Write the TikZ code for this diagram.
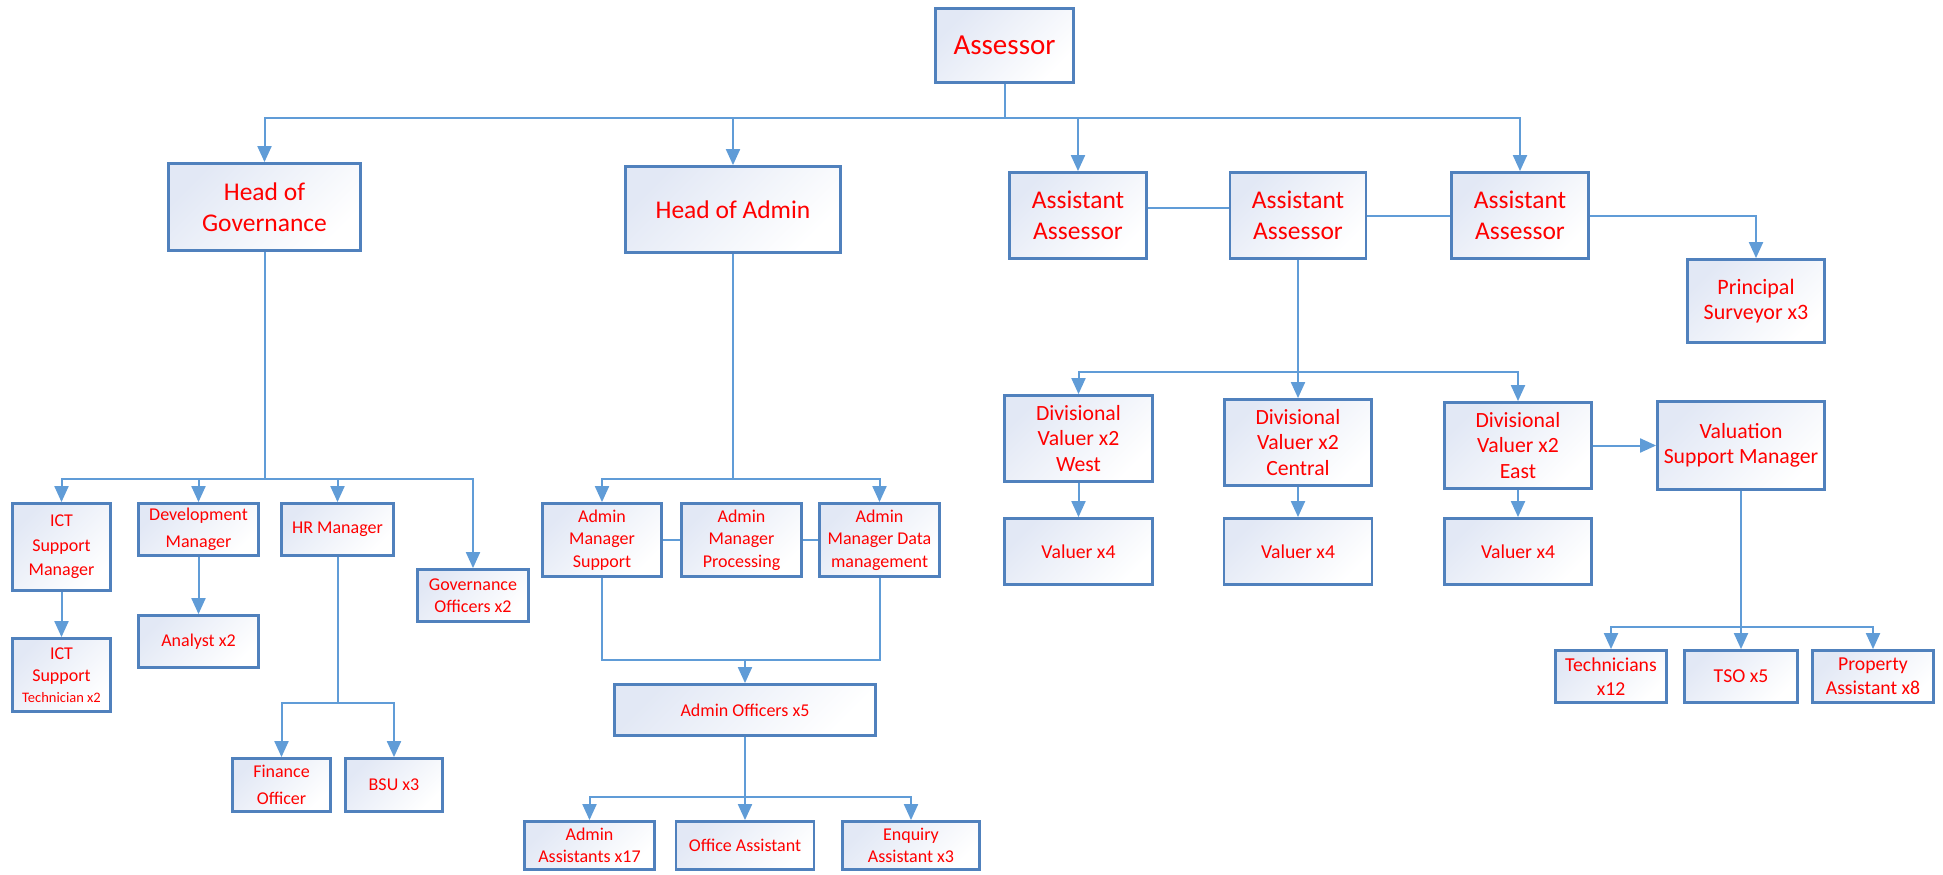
\documentclass[tikz,border=0pt]{standalone}
\usepackage{fontspec}
\setmainfont{Carlito}
\usepackage{tikz}
\usetikzlibrary{arrows.meta}
\usepackage{xcolor}
\definecolor{boxblue}{RGB}{80,129,189}
\definecolor{lineblue}{RGB}{96,156,215}
\definecolor{boxtint}{RGB}{226,232,245}

\begin{document}
\begin{tikzpicture}[x=1pt, y=-1pt,
    box/.style={draw=boxblue, line width=2.8pt, top color=boxtint, bottom color=white, shading angle=45, text=red, align=center, inner sep=2pt},
    link/.style={draw=lineblue, line width=2pt},
    arr/.style={link, -{Triangle[length=16pt,width=14pt]}},
    fbig/.style={font=\fontsize{25.5}{31}\selectfont},
    fmed/.style={font=\fontsize{21.7}{25.5}\selectfont},
    fval/.style={font=\fontsize{19.7}{23.7}\selectfont},
    fsmall/.style={font=\fontsize{18}{22.5}\selectfont}
]
\useasboundingbox (0,0) rectangle (1943,875);

% top levels
\node[box, minimum width=138, minimum height=74, font=\fontsize{29}{35}\selectfont] (assessor) at (1004.5,45.5) {Assessor};
\node[box, fbig, minimum width=192, minimum height=87] (hgov) at (264.5,207) {Head of\\Governance};
\node[box, fbig, minimum width=215, minimum height=86] (hadmin) at (733,209.5) {Head of Admin};
\node[box, fbig, minimum width=137, minimum height=86] (aa1) at (1078,215.5) {Assistant\\Assessor};
\node[box, fbig, minimum width=136, minimum height=86] (aa2) at (1298,215.5) {Assistant\\Assessor};
\node[box, fbig, minimum width=137, minimum height=86] (aa3) at (1520,215.5) {Assistant\\Assessor};
\node[box, font=\fontsize{22}{25}\selectfont, minimum width=137, minimum height=83] (psurv) at (1756,301) {Principal\\Surveyor x3};

% valuation side
\node[box, fmed, minimum width=148, minimum height=86] (divw) at (1078.5,438.5) {Divisional\\Valuer x2\\West};
\node[box, fmed, minimum width=147, minimum height=86] (divc) at (1298,442.5) {Divisional\\Valuer x2\\Central};
\node[box, fmed, minimum width=147, minimum height=86] (dive) at (1518,445.5) {Divisional\\Valuer x2\\East};
\node[box, fmed, minimum width=167, minimum height=88] (vsm) at (1741,445.5) {Valuation\\Support Manager};
\node[box, fval, minimum width=148, minimum height=66] (valw) at (1078.5,551.5) {Valuer x4};
\node[box, fval, minimum width=148, minimum height=66] (valc) at (1298,551.5) {Valuer x4};
\node[box, fval, minimum width=147, minimum height=66] (vale) at (1518,551.5) {Valuer x4};
\node[box, fval, minimum width=111, minimum height=52] (tech) at (1611,676.5) {Technicians\\x12};
\node[box, fval, minimum width=113, minimum height=52] (tso) at (1741,676.5) {TSO x5};
\node[box, fval, minimum width=121, minimum height=52] (prop) at (1873,676.5) {Property\\Assistant x8};

% governance side
\node[box, fsmall, minimum width=98, minimum height=87] (ictm) at (61.5,547) {ICT\\[2pt]Support\\[2pt]Manager};
\node[box, fsmall, minimum width=98, minimum height=73] (ictt) at (61.5,675) {ICT\\Support\\[-2pt]{\fontsize{14.5}{17}\selectfont Technician x2}};
\node[box, fsmall, minimum width=120, minimum height=52] (devm) at (198.5,529.5) {Development\\[5pt]Manager};
\node[box, fsmall, minimum width=120, minimum height=52] (analyst) at (198.5,641.5) {Analyst x2};
\node[box, fsmall, minimum width=112, minimum height=52] (hrm) at (337.5,529.5) {HR Manager};
\node[box, fsmall, minimum width=111, minimum height=52] (govo) at (473,595.5) {Governance\\Officers x2};
\node[box, fsmall, minimum width=98, minimum height=53] (fin) at (281.5,785) {Finance\\[5pt]Officer};
\node[box, fsmall, minimum width=97, minimum height=53] (bsu) at (394,785) {BSU x3};

% admin side
\node[box, fsmall, minimum width=119, minimum height=73] (ams) at (602,540) {Admin\\Manager\\Support};
\node[box, fsmall, minimum width=120, minimum height=73] (amp) at (741.5,540) {Admin\\Manager\\Processing};
\node[box, fsmall, minimum width=120, minimum height=73] (amd) at (879.5,540) {Admin\\Manager Data\\management};
\node[box, fsmall, minimum width=261, minimum height=51] (aoff) at (745,710) {Admin Officers x5};
\node[box, fsmall, minimum width=130, minimum height=48] (aasst) at (589.5,845.5) {Admin\\Assistants x17};
\node[box, fsmall, minimum width=138, minimum height=48] (offa) at (745,845.5) {Office Assistant};
\node[box, fsmall, minimum width=137, minimum height=48] (enq) at (911,845.5) {Enquiry\\Assistant x3};

% connectors
\coordinate (topbus) at (1004.5,118);
\draw[link] (assessor) -- (topbus);
\foreach \n in {hgov,hadmin,aa1,aa3}
    \draw[arr] (topbus) -| (\n);
\draw[link] ([yshift=8pt]aa1.east) -- ([yshift=8pt]aa2.west);
\draw[link] (aa2) -- (aa3);
\draw[arr] (aa3) -| (psurv);

\coordinate (divbus) at (1298,372);
\draw[arr] (aa2) -- (divc);
\draw[arr] (divbus) -| (divw);
\draw[arr] (divbus) -| (dive);
\draw[arr] (divw) -- (valw);
\draw[arr] (divc) -- (valc);
\draw[arr] (dive) -- (vale);
\draw[arr] (dive) -- (vsm);

\coordinate (vsmbus) at (1741,627);
\draw[arr] (vsm) -- (tso);
\draw[arr] (vsmbus) -| (tech);
\draw[arr] (vsmbus) -| (prop);

\coordinate (govbus) at (264.5,479);
\draw[link] (hgov) -- (govbus);
\foreach \n in {ictm,devm,hrm,govo}
    \draw[arr] (govbus) -| (\n);
\draw[arr] (ictm) -- (ictt);
\draw[arr] (devm) -- (analyst);
\coordinate (hrbus) at (337.5,703);
\draw[link] (hrm) -- (hrbus);
\draw[arr] (hrbus) -| (fin);
\draw[arr] (hrbus) -| (bsu);

\coordinate (adminbus) at (733,479);
\draw[link] (hadmin) -- (adminbus);
\draw[arr] (adminbus) -| (ams);
\draw[arr] (adminbus) -| (amd);
\draw[link] (ams) -- (amp) -- (amd);
\coordinate (amjoin) at (745,660);
\draw[link] (ams) |- (amjoin) -| (amd);
\draw[arr] (amjoin) -- (aoff);
\coordinate (aoffbus) at (745,797);
\draw[arr] (aoff) -- (offa);
\draw[arr] (aoffbus) -| (aasst);
\draw[arr] (aoffbus) -| (enq);
\end{tikzpicture}
\end{document}
